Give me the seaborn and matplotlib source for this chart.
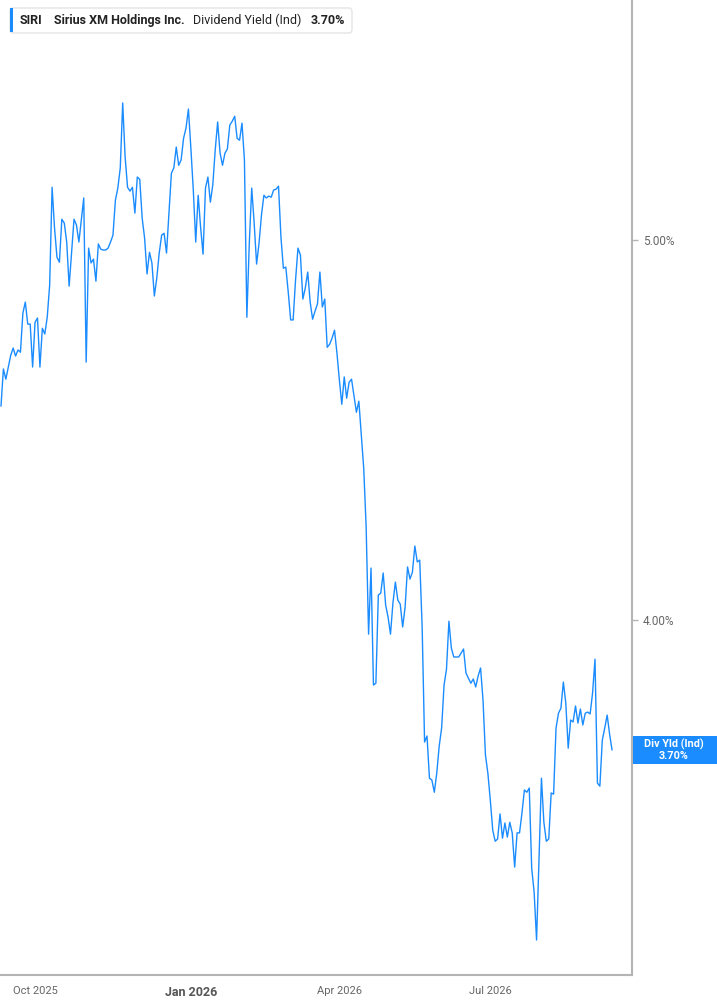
import pandas as pd
import numpy as np
import seaborn as sns
import matplotlib.pyplot as plt
from matplotlib.patches import FancyBboxPatch, Rectangle

# header / labels
ticker = "SIRI"
company = "Sirius XM Holdings Inc."
metric = "Dividend Yield (Ind)"
last_label = "3.70%"
end_tag = "Div Yld (Ind)"

# trading calendar
start_date = "2025-09-11"
market_holidays = ["2025-11-27", "2025-12-25", "2026-01-01", "2026-01-19", "2026-02-16",
                   "2026-04-03", "2026-05-25", "2026-06-19", "2026-07-03", "2026-09-07"]
tick_months = ["2025-10", "2026-01", "2026-04", "2026-07"]
y_ticks = [4.0, 5.0]

# daily dividend yield (%)
yield_pct = [
    4.563, 4.661, 4.634, 4.666, 4.697, 4.716, 4.695, 4.711, 4.705, 4.808,
    4.837, 4.779, 4.779, 4.666, 4.784, 4.795, 4.666, 4.768, 4.753, 4.797,
    4.882, 5.139, 5.032, 4.955, 4.942, 5.055, 5.045, 4.995, 4.879, 4.966,
    5.055, 5.040, 4.995, 5.053, 5.111, 4.679, 4.979, 4.940, 4.950, 4.892,
    4.990, 4.976, 4.974, 4.974, 4.979, 4.995, 5.013, 5.105, 5.137, 5.190,
    5.361, 5.218, 5.139, 5.129, 5.139, 5.071, 5.166, 5.160, 5.058, 5.005,
    4.911, 4.968, 4.940, 4.853, 4.900, 4.966, 5.013, 5.018, 4.966, 5.071,
    5.176, 5.190, 5.245, 5.197, 5.211, 5.268, 5.295, 5.345, 5.242, 5.132,
    4.995, 5.118, 5.034, 4.963, 5.137, 5.166, 5.100, 5.145, 5.237, 5.311,
    5.229, 5.197, 5.229, 5.240, 5.303, 5.313, 5.326, 5.268, 5.263, 5.308,
    5.211, 4.797, 4.992, 5.137, 5.045, 4.937, 4.992, 5.066, 5.118, 5.111,
    5.116, 5.113, 5.132, 5.134, 5.142, 5.008, 4.926, 4.929, 4.863, 4.790,
    4.790, 4.895, 4.979, 4.961, 4.845, 4.874, 4.916, 4.837, 4.792, 4.813,
    4.832, 4.916, 4.824, 4.845, 4.718, 4.726, 4.742, 4.763, 4.703, 4.632,
    4.568, 4.640, 4.584, 4.626, 4.634, 4.590, 4.547, 4.576, 4.487, 4.400,
    4.245, 3.963, 4.137, 3.829, 3.834, 4.066, 4.071, 4.124, 4.040, 4.008,
    3.963, 4.045, 4.100, 4.053, 4.042, 3.982, 4.034, 4.140, 4.108, 4.126,
    4.195, 4.153, 4.158, 3.982, 3.679, 3.695, 3.584, 3.579, 3.547, 3.597,
    3.668, 3.716, 3.829, 3.871, 3.997, 3.926, 3.903, 3.903, 3.903, 3.913,
    3.924, 3.861, 3.847, 3.834, 3.845, 3.824, 3.853, 3.874, 3.790, 3.645,
    3.597, 3.526, 3.447, 3.418, 3.424, 3.490, 3.426, 3.466, 3.429, 3.468,
    3.440, 3.350, 3.440, 3.440, 3.492, 3.553, 3.547, 3.558, 3.347, 3.284,
    3.158, 3.371, 3.584, 3.468, 3.418, 3.424, 3.545, 3.542, 3.716, 3.755,
    3.768, 3.837, 3.782, 3.663, 3.737, 3.732, 3.774, 3.729, 3.766, 3.724,
    3.755, 3.758, 3.753, 3.808, 3.897, 3.571, 3.563, 3.684, 3.716, 3.750,
    3.700, 3.658,
]

line_color = "#1a8cff"
axis_gray = "#b4b4b4"
label_gray = "#666666"

dates = pd.bdate_range(start=start_date, periods=len(yield_pct), freq="C",
                       holidays=market_holidays)
df = pd.DataFrame({"date": dates, "idx": np.arange(len(dates)), "yield": yield_pct})

sns.set_style("white")
plt.rcParams["font.family"] = ["Roboto", "DejaVu Sans"]

W, H = 717, 1005
fig = plt.figure(figsize=(W / 100, H / 100), dpi=100)
ax = fig.add_axes([0, 1 - 975 / H, 632 / W, 975 / H])

sns.lineplot(data=df, x="idx", y="yield", ax=ax, color=line_color, linewidth=1.0)

ax.set_xlim(-0.4, 259.2)
ax.set_ylim(3.066, 5.632)
ax.set_xlabel("")
ax.set_ylabel("")

for side in ["top", "left"]:
    ax.spines[side].set_visible(False)
for side in ["right", "bottom"]:
    ax.spines[side].set_color(axis_gray)
    ax.spines[side].set_linewidth(1.5)

# y axis on the right
ax.yaxis.tick_right()
ax.set_yticks(y_ticks)
ax.set_yticklabels([f"{v:.2f}%" for v in y_ticks])
ax.tick_params(axis="y", length=4, width=1, color=axis_gray, labelcolor=label_gray,
               labelsize=8.5, pad=4)

# x ticks at first trading day of each quarter month
months = df["date"].dt.strftime("%Y-%m")
xt, xl = [], []
for m in tick_months:
    first = df[months == m].iloc[0]
    xt.append(first["idx"])
    xl.append(first["date"].strftime("%b %Y"))
ax.set_xticks(xt)
ax.set_xticklabels(xl)
ax.tick_params(axis="x", length=4, width=1, color=axis_gray, labelcolor=label_gray,
               labelsize=8, pad=4)
for lab in ax.get_xticklabels():
    if lab.get_text().startswith("Jan"):
        lab.set_fontweight("bold")
        lab.set_fontsize(9)
        lab.set_color("#555555")

# header box with ticker / name / metric / value
fig.canvas.draw()
renderer = fig.canvas.get_renderer()
ty = 1 - 20.5 / H
x_px = 20
pieces = [(ticker, "bold", 11), (company, "bold", 9), (metric, "normal", 9), (last_label, "bold", 0)]
for txt, weight, gap in pieces:
    t = fig.text(x_px / W, ty, txt, fontsize=9, fontweight=weight, color="#222222",
                 ha="left", va="center")
    bb = t.get_window_extent(renderer)
    x_px = bb.x1 + gap
box_right = x_px + 7
fig.patches.append(FancyBboxPatch((10 / W, 1 - 33 / H), (box_right - 10) / W, 25 / H,
                                  boxstyle="round,pad=0,rounding_size=0.004",
                                  transform=fig.transFigure, facecolor="white",
                                  edgecolor="#e4e4e4", linewidth=1.0, zorder=0))
fig.patches.append(Rectangle((10 / W, 1 - 32.5 / H), 3 / W, 24 / H, transform=fig.transFigure,
                             facecolor=line_color, edgecolor="none", zorder=1))

# end-of-line tag
last_val = yield_pct[-1]
y_disp = ax.transData.transform((0, last_val))[1]
tag_h = 28
fig.patches.append(Rectangle((633 / W, (y_disp - tag_h / 2) / H), (W - 633) / W, tag_h / H,
                             transform=fig.transFigure, facecolor=line_color,
                             edgecolor="none", zorder=2))
fig.text(674 / W, (y_disp + 6) / H, end_tag, color="white", fontsize=7.8, fontweight="bold",
         ha="center", va="center", zorder=3)
fig.text(674 / W, (y_disp - 6) / H, last_label, color="white", fontsize=7.8, fontweight="bold",
         ha="center", va="center", zorder=3)

fig.savefig("out.png", dpi=100)
